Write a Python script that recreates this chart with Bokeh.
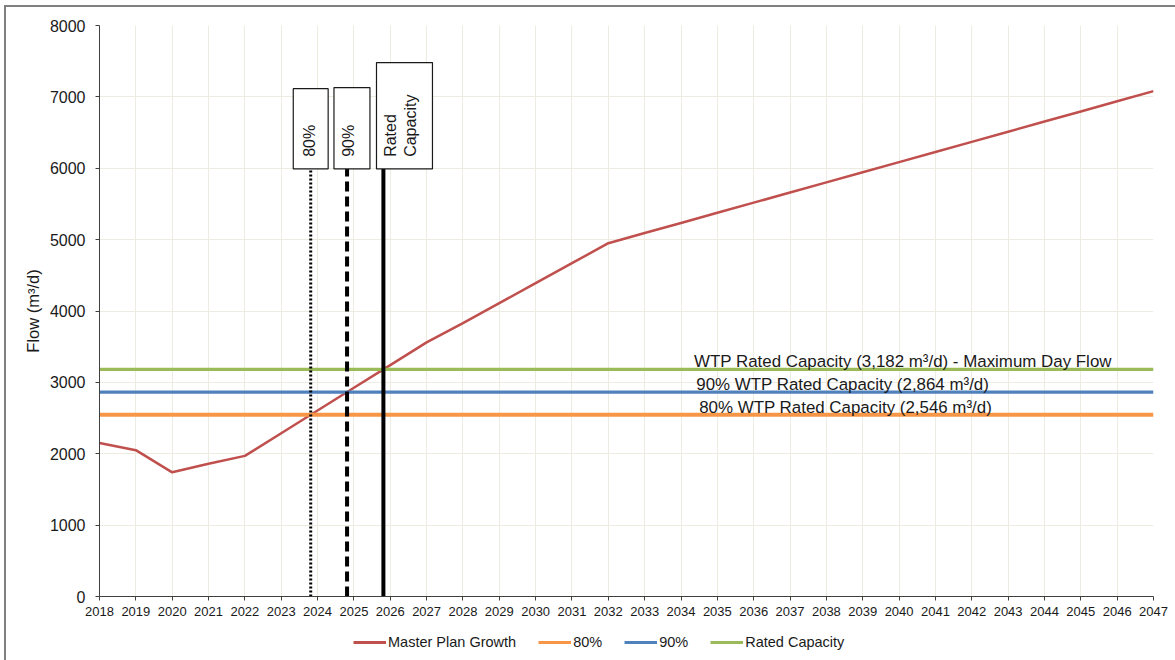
import numpy as np
from bokeh.plotting import figure
from bokeh.layouts import column
from bokeh.models import FixedTicker, Legend, LegendItem
from bokeh.core.properties import value
from bokeh.embed import file_html
from bokeh.resources import INLINE

# ---- data -------------------------------------------------------------
years = list(range(2018, 2048))
master_plan_growth = [2150, 2050, 1740, 1860, 1970, 2288, 2606, 2924, 3242, 3560,
                      3830, 4110, 4390, 4670, 4950, 5092, 5234, 5376, 5518, 5660,
                      5802, 5944, 6086, 6228, 6370, 6512, 6654, 6796, 6938, 7080]

capacity_names = ["80%", "90%", "Rated Capacity"]
capacity_values = [2546, 2864, 3182]
capacity_labels = ["80% WTP Rated Capacity (2,546 m\u00b3/d)",
                   "90% WTP Rated Capacity (2,864 m\u00b3/d)",
                   "WTP Rated Capacity (3,182 m\u00b3/d) - Maximum Day Flow"]
box_texts = ["80%", "90%", "Rated\nCapacity"]
y_ticks = [0, 1000, 2000, 3000, 4000, 5000, 6000, 7000, 8000]

# ---- styles -----------------------------------------------------------
FONT = "Liberation Sans"
RED, ORANGE, BLUE, GREEN = "#C0504D", "#F79646", "#4F81BD", "#9BBB59"
cap_colors = [ORANGE, BLUE, GREEN]
cap_widths = [4, 3.2, 3.2]
GRID = "#EEECE1"
INK = "#1a1a1a"

p = figure(width=1169, height=617, x_range=(2018, 2047), y_range=(0, 8000),
           output_backend="svg", toolbar_location=None,
           min_border_left=93, min_border_right=22, min_border_top=18,
           min_border_bottom=28, background_fill_color="white",
           border_fill_color="white", outline_line_color=None)

# axes
p.xaxis.ticker = FixedTicker(ticks=years)
p.yaxis.ticker = FixedTicker(ticks=y_ticks)
for ax in (p.xaxis[0], p.yaxis[0]):
    ax.axis_line_color = "#404040"
    ax.major_tick_line_color = "#404040"
    ax.minor_tick_line_color = None
    ax.major_tick_in = 0
    ax.major_tick_out = 4
    ax.major_label_text_font = FONT
    ax.major_label_text_color = INK
p.xaxis.major_label_text_font_size = "13px"
p.xaxis.major_label_standoff = 6
p.yaxis.major_label_text_font_size = "16px"
p.yaxis.major_label_standoff = 10
p.yaxis.axis_label = "Flow (m\u00b3/d)"
p.yaxis.axis_label_text_font = FONT
p.yaxis.axis_label_text_font_size = "16.5px"
p.yaxis.axis_label_text_font_style = "normal"
p.yaxis.axis_label_text_color = INK
p.yaxis.axis_label_standoff = 5

p.xgrid.grid_line_color = GRID
p.ygrid.grid_line_color = GRID
p.xgrid.ticker = FixedTicker(ticks=years)
p.ygrid.ticker = FixedTicker(ticks=y_ticks)

# growth curve
p.line(years, master_plan_growth, color=RED, line_width=2.5)

# capacity lines
for v, c, w in zip(capacity_values, cap_colors, cap_widths):
    p.line([years[0], years[-1]], [v, v], color=c, line_width=w)

# years at which growth reaches each capacity level
g = np.array(master_plan_growth, dtype=float)
yrs = np.array(years, dtype=float)
cross_years = [float(np.interp(v, g[4:], yrs[4:])) for v in capacity_values]

dashes = ["2 2", "10 5", "solid"]
widths = [3, 4, 4]
box_top = [7115, 7130, 7480]
box_span = [(-0.48, 0.48), (-0.36, 0.63), (-0.19, 1.35)]
text_dx = [[-0.03], [0.05], [0.2, 0.75]]
for cy, d, w, top, (l, r), dxs, txt in zip(cross_years, dashes, widths,
                                            box_top, box_span, text_dx, box_texts):
    p.line([cy, cy], [0, 6000], color="black", line_width=w, line_dash=d)
    p.quad(left=[cy + l], right=[cy + r], bottom=[5990], top=[top],
           fill_color="white", line_color=INK, line_width=1.2)
    for dx, t in zip(dxs, txt.split("\n")):
        p.text(x=[cy + dx], y=[6160], text=[t], angle=np.pi / 2,
               text_align="left", text_baseline="middle",
               text_font=value(FONT), text_font_size="16px", text_color=INK)

# capacity labels
label_x = [2034.5, 2034.42, 2034.36]
for lx, v, t in zip(label_x, capacity_values, capacity_labels):
    p.text(x=[lx], y=[v], text=[t], text_align="left", text_baseline="bottom",
           y_offset=2, text_font=value(FONT), text_font_size="16.9px",
           text_color=INK)

# legend strip underneath the chart (its own copies of the series sit
# outside the strip's visible range; only the legend swatches show)
lg = figure(width=1169, height=36, x_range=(0, 1), y_range=(0, 1),
            output_backend="svg", toolbar_location=None,
            x_axis_type=None, y_axis_type=None, min_border=0,
            outline_line_color=None, background_fill_color="white",
            border_fill_color="white")
lg.xgrid.visible = False
lg.ygrid.visible = False
items = [LegendItem(label="Master Plan Growth",
                    renderers=[lg.line(years, master_plan_growth, color=RED, line_width=3)])]
for n, c, w, v in zip(capacity_names, cap_colors, cap_widths, capacity_values):
    r = lg.line([years[0], years[-1]], [v, v], color=c, line_width=3)
    items.append(LegendItem(label=n, renderers=[r]))
legend = Legend(items=items, orientation="horizontal", location=(254, 10),
                label_text_font=FONT, label_text_font_size="14.5px",
                label_text_color=INK, glyph_width=33, glyph_height=12,
                label_standoff=2, spacing=22, border_line_color=None,
                background_fill_alpha=0, padding=2, margin=0)
lg.add_layout(legend, "center")

page = column(p, lg, spacing=0)
page.margin = (5, 0, 0, 4)
page.styles = {"border-left": "2px solid #808080", "border-top": "2px solid #808080"}

open("out.html", "w").write(file_html(page, INLINE))
